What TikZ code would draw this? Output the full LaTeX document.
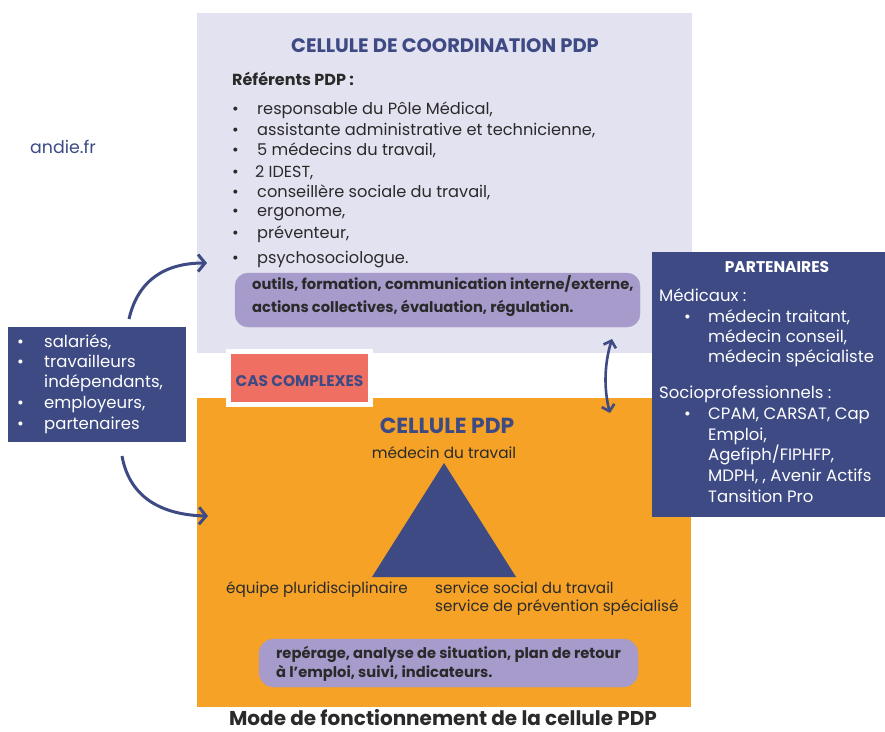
\documentclass[tikz,border=0pt]{standalone}
\usepackage{fontspec}
\setmainfont{Poppins}
\usetikzlibrary{arrows.meta}
\definecolor{dblue}{HTML}{3D4A84}
\definecolor{lav}{HTML}{E3E2F0}
\definecolor{purp}{HTML}{A69BCB}
\definecolor{orng}{HTML}{F5A227}
\definecolor{redc}{HTML}{EF6F62}
\definecolor{txt}{HTML}{2A2A2A}
\tikzset{
  lt/.style={anchor=base west,inner sep=0pt,font=\fontsize{16.2}{18}\selectfont,text=txt},
  ot/.style={anchor=base west,inner sep=0pt,font=\fontsize{15.2}{18}\selectfont,text=txt},
  wt/.style={anchor=base west,inner sep=0pt,font=\fontsize{16.5}{18}\selectfont,text=white},
  bt/.style={anchor=base west,inner sep=0pt,font=\fontsize{14.7}{17}\selectfont\bfseries,text=txt},
  ttl/.style={anchor=base,inner sep=0pt,text=dblue},
  arr/.style={draw=dblue,line width=3pt,-{Straight Barb[length=7pt,width=17pt]}},
}
\newcommand{\bul}{\textbullet}
\begin{document}
\begin{tikzpicture}[x=1pt,y=-1pt]
\useasboundingbox (0,0) rectangle (885,731);
% top box
\fill[lav] (197,13) rectangle (692,353);
\node[ttl,font=\fontsize{19.5}{22}\selectfont\bfseries] (t1) at (445,52) {CELLULE DE COORDINATION PDP};
\node[bt,font=\fontsize{16}{18}\selectfont\bfseries] (ref) at (232,85) {Référents PDP :};
\foreach \y/\t [count=\i] in {114/{responsable du Pôle Médical,},135/{assistante administrative et technicienne,},155/{5 médecins du travail,},197/{conseillère sociale du travail,},216/{ergonome,},238/{préventeur,},263/{psychosociologue.}}{
  \node[lt] (b\i) at (232,\y) {\bul};
  \node[lt] (l\i) at (257,\y) {\t};
}
\node[lt] (b8) at (232,177) {\bul};
\node[lt,font=\fontsize{16}{18}\selectfont] (l8) at (255,177) {2 IDEST,};
\draw[purp,fill=purp,rounded corners=13pt] (235,273) rectangle (640,327);
\node[bt] (o1) at (252,289) {outils, formation, communication interne/externe,};
\node[bt] (o2) at (252,312) {actions collectives, évaluation, régulation.};
% andie
\node[anchor=base west,inner sep=0pt,font=\fontsize{17.4}{20}\selectfont,text=dblue] (andie) at (30,153) {andie.fr};
% left box
\fill[dblue] (8,327) rectangle (186,442);
\foreach \y/\t [count=\i] in {347/{salariés,},367/{travailleurs},387/{indépendants,},408/{employeurs,},429/{partenaires}}{
  \node[wt] (w\i) at (44,\y) {\t};
}
\foreach \y in {347,367,408,429}{\node[wt] at (17,\y) {\bul};}
% orange box
\fill[orng] (197,398) rectangle (691,707);
% cas complexes
\fill[white] (226,349) rectangle (373,407);
\fill[redc] (231,354) rectangle (368,402);
\node[anchor=base,inner sep=0pt,font=\fontsize{15.4}{18}\selectfont\bfseries,text=dblue] (cas) at (299.5,386) {CAS COMPLEXES};
% cellule pdp
\node[ttl,font=\fontsize{21.8}{24}\selectfont\bfseries] (t2) at (447,433) {CELLULE PDP};
\node[anchor=base,inner sep=0pt,font=\fontsize{15.3}{18}\selectfont,text=txt] (med) at (444,458) {médecin du travail};
\fill[dblue] (444,463) coordinate (apex) -- (516,577) -- (372,577) -- cycle;
\node[ot] (eq) at (226,593) {équipe pluridisciplinaire};
\node[ot] (ss1) at (435,593) {service social du travail};
\node[ot] (ss2) at (435,611) {service de prévention spécialisé};
\draw[purp,fill=purp,rounded corners=15pt] (259,639) rectangle (638,687);
\node[bt] (r1) at (276,658) {repérage, analyse de situation, plan de retour};
\node[bt] (r2) at (276,677) {à l’emploi, suivi, indicateurs.};
% caption
\node[anchor=base,inner sep=0pt,font=\fontsize{20}{23}\selectfont\bfseries,text=txt] (cap) at (443,725) {Mode de fonctionnement de la cellule PDP};
% partenaires box
\fill[dblue] (652,252) rectangle (885,517);
\node[anchor=base,inner sep=0pt,font=\fontsize{15.5}{18}\selectfont\bfseries,text=white] (pt) at (777,272) {PARTENAIRES};
\node[wt] (pm) at (659,301) {Médicaux :};
\node[wt] at (684,322) {\bul};
\node[wt] (p1) at (708,322) {médecin traitant,};
\node[wt] (p2) at (708,342) {médecin conseil,};
\node[wt] (p3) at (708,362) {médecin spécialiste};
\node[wt] (ps) at (659,398) {Socioprofessionnels :};
\node[wt] at (684,419) {\bul};
\foreach \y/\t [count=\i] in {419/{CPAM, CARSAT, Cap},440/{Emploi,},460/{Agefiph/FIPHFP,},481/{MDPH, , Avenir Actifs},502/{Tansition Pro}}{
  \node[wt] (q\i) at (708,\y) {\t};
}
% arrows
\coordinate (a1s) at (129,319);
\coordinate (a1e) at (207,263);
\coordinate (a2s) at (122,456);
\coordinate (a2e) at (208,516);
\draw[arr] (a1s) .. controls (138,280) and (165,263) .. (a1e);
\draw[arr] (a2s) .. controls (130,500) and (165,515) .. (a2e);
\coordinate (d1) at (612,339);
\coordinate (d2) at (610,413);
\draw[draw=dblue,line width=2.6pt,{Straight Barb[length=6pt,width=13pt]}-{Straight Barb[length=6pt,width=13pt]}] (d1) .. controls (604,365) and (604,390) .. (d2);
\end{tikzpicture}
\end{document}
